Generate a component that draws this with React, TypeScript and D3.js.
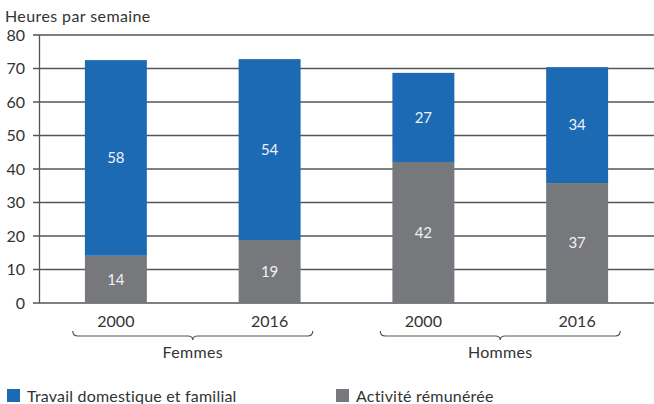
import React from "react";
import * as d3 from "d3";

const categories = ["F2000", "F2016", "H2000", "H2016"];
const yearLabels = ["2000", "2016", "2000", "2016"];
const groups = ["Femmes", "Hommes"];
const paidValues = [14.1, 18.8, 42.1, 35.8];
const domesticValues = [58.4, 54.0, 26.6, 34.6];
const paidLabels = ["14", "19", "42", "37"];
const domesticLabels = ["58", "54", "27", "34"];
const yTicks = [0, 10, 20, 30, 40, 50, 60, 70, 80];
const seriesNames = ["Travail domestique et familial", "Activité rémunérée"];

const W = 654;
const H = 404;
const BLUE = "#1c69b4";
const GRAY = "#77787c";
const FONT = "Lato, 'Noto Sans', sans-serif";

export default function App() {
  const x = d3.scaleBand<string>().domain(categories).range([39, 654]).paddingInner(0.597).paddingOuter(0.2985);
  const y = d3.scaleLinear().domain([0, 80]).range([303, 35]);
  const bw = x.bandwidth();

  const brace = (x1: number, x2: number, y0: number) => {
    const xm = (x1 + x2) / 2;
    const p = d3.path();
    p.moveTo(x1, y0 - 5);
    p.quadraticCurveTo(x1, y0, x1 + 5, y0);
    p.lineTo(xm - 5, y0);
    p.quadraticCurveTo(xm, y0, xm, y0 + 4);
    p.quadraticCurveTo(xm, y0, xm + 5, y0);
    p.lineTo(x2 - 5, y0);
    p.quadraticCurveTo(x2, y0, x2, y0 - 5);
    return p.toString();
  };

  return (
    <svg width={W} height={H} style={{ position: "absolute", left: 0, top: 0, fontFamily: FONT }}>
      <rect width={W} height={H} fill="#fff" />
      <text x={5} y={22} fontSize={16} letterSpacing={0.4} fill="#333">Heures par semaine</text>
      {yTicks.map((t) => (
        <g key={t}>
          <line x1={33} x2={654} y1={y(t)} y2={y(t)} stroke="#555" strokeWidth={1.3} />
          <text x={25} y={y(t)} dy="0.35em" textAnchor="end" fontSize={16} fill="#333">{t}</text>
        </g>
      ))}
      <line x1={39.5} x2={39.5} y1={y(80)} y2={y(0)} stroke="#555" strokeWidth={1.3} />
      {categories.map((c, i) => {
        const x0 = x(c)!;
        const yp = y(paidValues[i]);
        const yd = y(paidValues[i] + domesticValues[i]);
        return (
          <g key={c}>
            <rect x={x0} width={bw} y={yp} height={y(0) - yp} fill={GRAY} />
            <rect x={x0} width={bw} y={yd} height={yp - yd} fill={BLUE} />
            <text x={x0 + bw / 2} y={(yp + y(0)) / 2} dy="0.35em" textAnchor="middle" fontSize={15} fill="#eef2f7">{paidLabels[i]}</text>
            <text x={x0 + bw / 2} y={(yd + yp) / 2} dy="0.35em" textAnchor="middle" fontSize={15} fill="#eef2f7">{domesticLabels[i]}</text>
            <text x={x0 + bw / 2} y={327} textAnchor="middle" fontSize={16} fill="#333">{yearLabels[i]}</text>
          </g>
        );
      })}
      {groups.map((g, gi) => {
        const c0 = x(categories[gi * 2])! + bw / 2;
        const c1 = x(categories[gi * 2 + 1])! + bw / 2;
        const xm = (c0 + c1) / 2;
        return (
          <g key={g}>
            <path d={brace(xm - 120, xm + 120, 336)} fill="none" stroke="#555" strokeWidth={1.2} />
            <text x={xm} y={358} textAnchor="middle" fontSize={16} letterSpacing={0.3} fill="#333">{g}</text>
          </g>
        );
      })}
      {seriesNames.map((s, i) => {
        const lx = i === 0 ? 7 : 336;
        return (
          <g key={s}>
            <rect x={lx} y={389} width={13} height={13} fill={i === 0 ? BLUE : GRAY} />
            <text x={lx + 20} y={402} fontSize={16} letterSpacing={0.2} fill="#333">{s}</text>
          </g>
        );
      })}
    </svg>
  );
}
